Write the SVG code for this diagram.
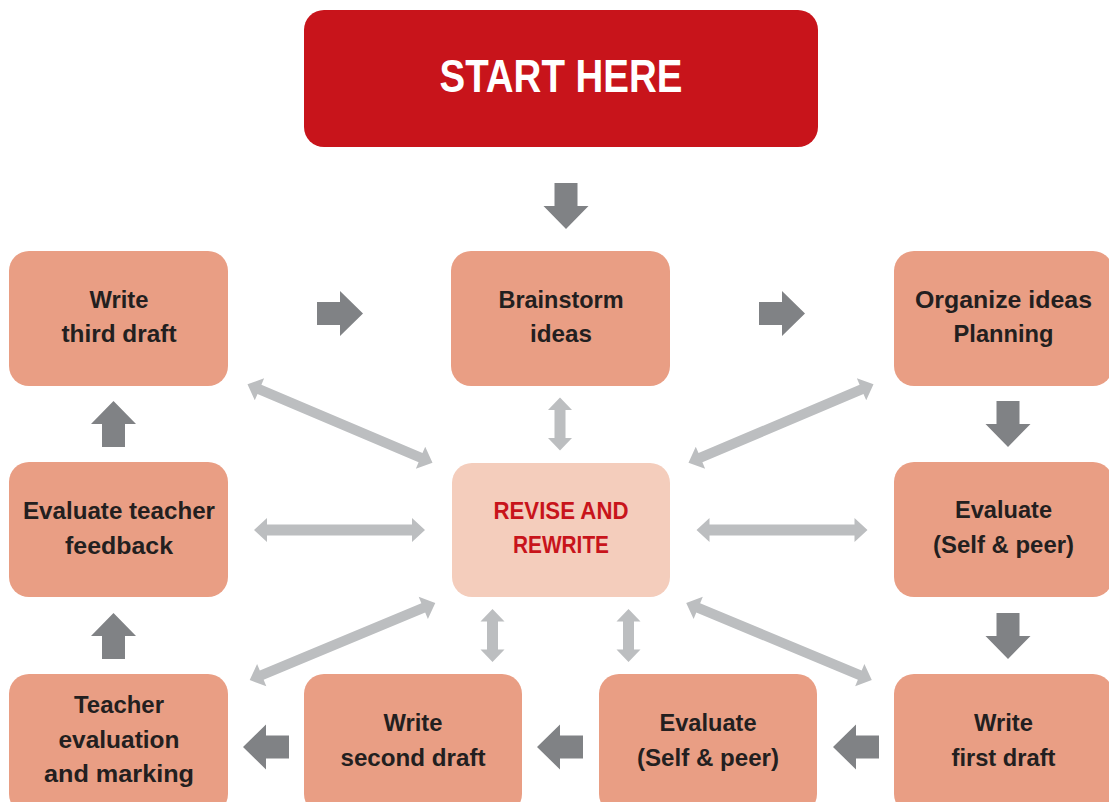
<svg xmlns="http://www.w3.org/2000/svg" xmlns:xlink="http://www.w3.org/1999/xlink" width="1109" height="802" viewBox="0 0 1109 802">
<style>
.box{fill:#E99E84;}
.rev{fill:#F4CDBC;}
.start{fill:#C8141B;}
.t{font-family:"Liberation Sans",Arial,sans-serif;font-weight:700;font-size:24px;fill:#231F20;text-anchor:middle;}
.tr{font-family:"Liberation Sans",Arial,sans-serif;font-weight:700;font-size:24px;fill:#C8141B;text-anchor:middle;}
.ts{font-family:"Liberation Sans",Arial,sans-serif;font-weight:700;font-size:47px;fill:#FFFFFF;text-anchor:middle;}
.dark{fill:#808285;}
.light{fill:#BCBEC0;}
</style>
<defs>
<polygon id="arr" points="-23,-11.5 0,-11.5 0,-22.5 23,0 0,22.5 0,11.5 -23,11.5"/>
<polygon id="dd" points="-100.5,0 -87.5,-12 -87.5,-5 87.5,-5 87.5,-12 100.5,0 87.5,12 87.5,5 -87.5,5 -87.5,12"/>
<polygon id="dh" points="-85.5,0 -72.5,-12 -72.5,-5.5 72.5,-5.5 72.5,-12 85.5,0 72.5,12 72.5,5.5 -72.5,5.5 -72.5,12"/>
<polygon id="dv" points="-26.5,0 -14,-12 -14,-5.5 14,-5.5 14,-12 26.5,0 14,12 14,5.5 -14,5.5 -14,12"/>
</defs>
<rect width="1109" height="802" fill="#FFFFFF"/>

<g id="connectors">
  <g class="dark">
    <use xlink:href="#arr" href="#arr" transform="translate(566,206) rotate(90)"/>
    <use xlink:href="#arr" href="#arr" transform="translate(340,313.5)"/>
    <use xlink:href="#arr" href="#arr" transform="translate(782,313.5)"/>
    <use xlink:href="#arr" href="#arr" transform="translate(1008,424) rotate(90)"/>
    <use xlink:href="#arr" href="#arr" transform="translate(1008,636) rotate(90)"/>
    <use xlink:href="#arr" href="#arr" transform="translate(113.5,424) rotate(-90)"/>
    <use xlink:href="#arr" href="#arr" transform="translate(113.5,636) rotate(-90)"/>
    <use xlink:href="#arr" href="#arr" transform="translate(266,747) rotate(180)"/>
    <use xlink:href="#arr" href="#arr" transform="translate(560,747) rotate(180)"/>
    <use xlink:href="#arr" href="#arr" transform="translate(856,747) rotate(180)"/>
  </g>
  <g class="light">
    <use xlink:href="#dd" href="#dd" transform="translate(340,423.5) rotate(23)"/>
    <use xlink:href="#dd" href="#dd" transform="translate(781,423.5) rotate(-23)"/>
    <use xlink:href="#dd" href="#dd" transform="translate(342.5,641.5) rotate(-22.6)"/>
    <use xlink:href="#dd" href="#dd" transform="translate(779,641.5) rotate(22.6)"/>
    <use xlink:href="#dh" href="#dh" transform="translate(339.5,530)"/>
    <use xlink:href="#dh" href="#dh" transform="translate(782,530)"/>
    <use xlink:href="#dv" href="#dv" transform="translate(560,424) rotate(90)"/>
    <use xlink:href="#dv" href="#dv" transform="translate(492.5,635.5) rotate(90)"/>
    <use xlink:href="#dv" href="#dv" transform="translate(628.5,635.5) rotate(90)"/>
  </g>
</g>

<g id="start">
  <rect class="start" x="304" y="10" width="514" height="137" rx="20"/>
  <text class="ts" x="561" y="92" textLength="243" lengthAdjust="spacingAndGlyphs">START HERE</text>
</g>

<g id="third-draft">
  <rect class="box" x="9" y="251" width="219" height="135" rx="20"/>
  <text class="t" x="119" y="308" textLength="59" lengthAdjust="spacingAndGlyphs">Write</text>
  <text class="t" x="119" y="342" textLength="115" lengthAdjust="spacingAndGlyphs">third draft</text>
</g>

<g id="brainstorm">
  <rect class="box" x="451" y="251" width="219" height="135" rx="20"/>
  <text class="t" x="561" y="308" textLength="125" lengthAdjust="spacingAndGlyphs">Brainstorm</text>
  <text class="t" x="561" y="342" textLength="62" lengthAdjust="spacingAndGlyphs">ideas</text>
</g>

<g id="organize">
  <rect class="box" x="894" y="251" width="219" height="135" rx="20"/>
  <text class="t" x="1003.5" y="308" textLength="177" lengthAdjust="spacingAndGlyphs">Organize ideas</text>
  <text class="t" x="1003.5" y="342" textLength="100" lengthAdjust="spacingAndGlyphs">Planning</text>
</g>

<g id="eval-teacher-feedback">
  <rect class="box" x="9" y="462" width="219" height="135" rx="20"/>
  <text class="t" x="119" y="519" textLength="192" lengthAdjust="spacingAndGlyphs">Evaluate teacher</text>
  <text class="t" x="119" y="554" textLength="108" lengthAdjust="spacingAndGlyphs">feedback</text>
</g>

<g id="revise">
  <rect class="rev" x="452" y="463" width="218" height="134" rx="20"/>
  <text class="tr" x="561" y="519" textLength="135" lengthAdjust="spacingAndGlyphs">REVISE AND</text>
  <text class="tr" x="561" y="553" textLength="96" lengthAdjust="spacingAndGlyphs">REWRITE</text>
</g>

<g id="evaluate-1">
  <rect class="box" x="894" y="462" width="219" height="135" rx="20"/>
  <text class="t" x="1003.5" y="518" textLength="97" lengthAdjust="spacingAndGlyphs">Evaluate</text>
  <text class="t" x="1003.5" y="553" textLength="141" lengthAdjust="spacingAndGlyphs">(Self &amp; peer)</text>
</g>

<g id="teacher-evaluation">
  <rect class="box" x="9" y="674" width="219" height="140" rx="20"/>
  <text class="t" x="119" y="713" textLength="90" lengthAdjust="spacingAndGlyphs">Teacher</text>
  <text class="t" x="119" y="748" textLength="121" lengthAdjust="spacingAndGlyphs">evaluation</text>
  <text class="t" x="119" y="782" textLength="150" lengthAdjust="spacingAndGlyphs">and marking</text>
</g>

<g id="second-draft">
  <rect class="box" x="304" y="674" width="218" height="140" rx="20"/>
  <text class="t" x="413" y="731" textLength="59" lengthAdjust="spacingAndGlyphs">Write</text>
  <text class="t" x="413" y="766" textLength="145" lengthAdjust="spacingAndGlyphs">second draft</text>
</g>

<g id="evaluate-2">
  <rect class="box" x="599" y="674" width="218" height="140" rx="20"/>
  <text class="t" x="708" y="731" textLength="97" lengthAdjust="spacingAndGlyphs">Evaluate</text>
  <text class="t" x="708" y="766" textLength="142" lengthAdjust="spacingAndGlyphs">(Self &amp; peer)</text>
</g>

<g id="first-draft">
  <rect class="box" x="894" y="674" width="219" height="140" rx="20"/>
  <text class="t" x="1003.5" y="731" textLength="59" lengthAdjust="spacingAndGlyphs">Write</text>
  <text class="t" x="1003.5" y="766" textLength="104" lengthAdjust="spacingAndGlyphs">first draft</text>
</g>
</svg>
